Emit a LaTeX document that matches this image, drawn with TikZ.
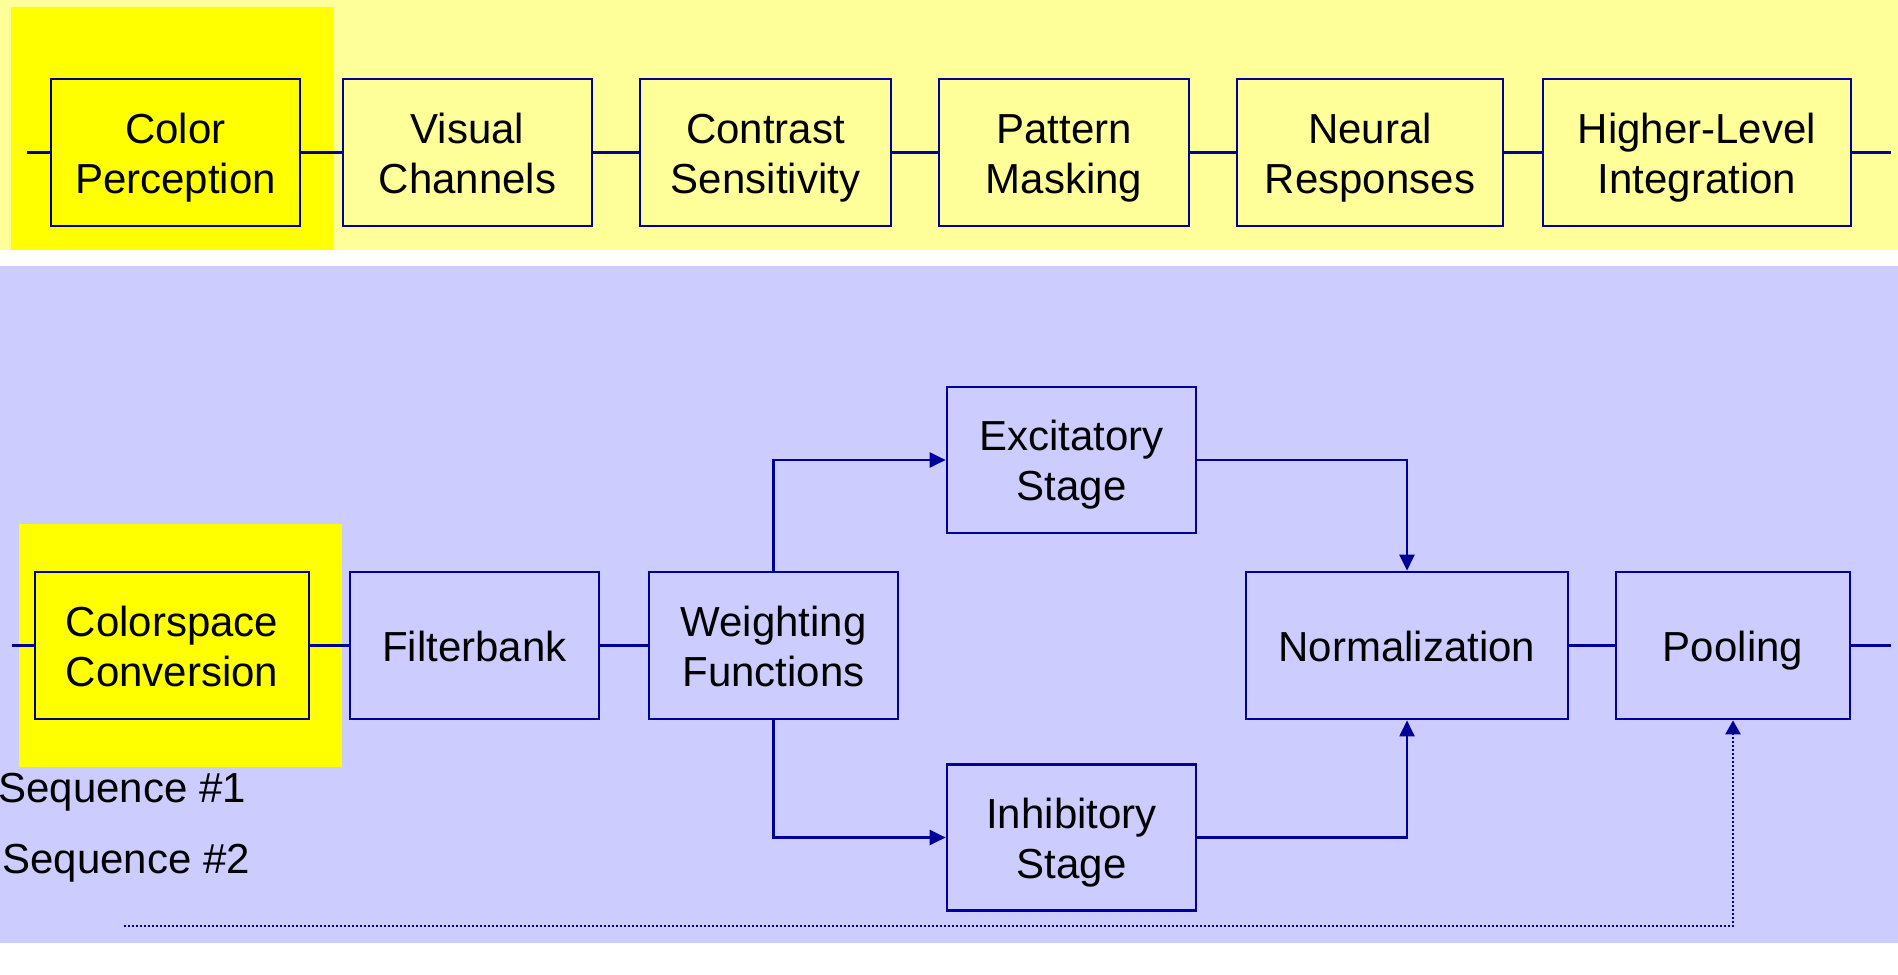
\documentclass[tikz,border=0pt]{standalone}
\usepackage{fontspec}
\setmainfont{Liberation Sans}
\usetikzlibrary{arrows.meta}
\definecolor{paleyellow}{HTML}{FFFF99}
\definecolor{hilite}{HTML}{FFFF00}
\definecolor{lavender}{HTML}{CCCCFF}
\definecolor{navy}{HTML}{000099}
% fixed line height so every box sets its text at the same baselines
\newcommand{\lnstrut}{\rule[-4.75pt]{0pt}{25pt}}
\newcommand{\two}[2]{\lnstrut#1\\\lnstrut#2}
\newcommand{\one}[1]{\lnstrut#1}
\tikzset{
  blk/.style={draw=navy, line width=1.35pt, inner sep=0pt, align=center,
    minimum height=73.5pt, font=\fontsize{21}{25}\selectfont},
  wire/.style={draw=navy, line width=1.15pt},
  arr/.style={wire, -{Triangle[length=8pt,width=7.5pt]}},
  dotarr/.style={wire, dash pattern=on 1pt off 1pt, -{Triangle[length=7pt,width=7.5pt]}},
  lbl/.style={anchor=base west, inner sep=0pt, font=\fontsize{21}{25}\selectfont}
}
\begin{document}
\begin{tikzpicture}[x=0.5pt,y=-0.5pt]
  % canvas and bands
  \useasboundingbox (0,0) rectangle (1898,974);
  \fill[white] (0,0) rectangle (1898,974);
  \fill[paleyellow] (0,0) rectangle (1898,250);
  \fill[lavender] (0,266) rectangle (1898,943);
  \fill[hilite] (11,7) rectangle (334,250);
  \fill[hilite] (19,524) rectangle (342,767);

  % upper sequence
  \node[blk, fill=hilite, minimum width=124.5pt] (cp) at (175.5,152.5) {\two{Color}{Perception}};
  \node[blk, minimum width=124.5pt] (vc) at (467.5,152.5) {\two{Visual}{Channels}};
  \node[blk, minimum width=125.5pt] (cs) at (765.5,152.5) {\two{Contrast}{Sensitivity}};
  \node[blk, minimum width=125pt] (pm) at (1064,152.5) {\two{Pattern}{Masking}};
  \node[blk, minimum width=133pt] (nr) at (1370,152.5) {\two{Neural}{Responses}};
  \node[blk, minimum width=154pt] (hl) at (1697,152.5) {\two{Higher-Level}{Integration}};
  \coordinate (tin) at (27,152.5);
  \coordinate (tout) at (1891,152.5);
  \draw[wire] (tin) -- (cp.west);
  \draw[wire] (cp.east) -- (vc.west);
  \draw[wire] (vc.east) -- (cs.west);
  \draw[wire] (cs.east) -- (pm.west);
  \draw[wire] (pm.east) -- (nr.west);
  \draw[wire] (nr.east) -- (hl.west);
  \draw[wire] (hl.east) -- (tout);

  % lower sequence
  \node[blk, fill=hilite, minimum width=137pt] (cc) at (172,645.5) {\two{Colorspace}{Conversion}};
  \node[blk, minimum width=124.5pt] (fb) at (474.5,645.5) {\one{Filterbank}};
  \node[blk, minimum width=124.5pt] (wf) at (773.5,645.5) {\two{Weighting}{Functions}};
  \node[blk, minimum width=124.5pt, minimum height=73pt] (ex) at (1071.5,460) {\two{Excitatory}{Stage}};
  \node[blk, minimum width=124.5pt, minimum height=73pt] (ih) at (1071.5,837.5) {\two{Inhibitory}{Stage}};
  \node[blk, minimum width=161pt] (no) at (1407,645.5) {\one{Normalization}};
  \node[blk, minimum width=117pt] (po) at (1733,645.5) {\one{Pooling}};
  \coordinate (bin) at (12,645.5);
  \coordinate (bout) at (1891,645.5);
  \coordinate (dstart) at (124,926);
  \draw[wire] (bin) -- (cc.west);
  \draw[wire] (cc.east) -- (fb.west);
  \draw[wire] (fb.east) -- (wf.west);
  \draw[arr] (wf.north) |- (ex.west);
  \draw[arr] (wf.south) |- (ih.west);
  \draw[arr] (ex.east) -| (no.north);
  \draw[arr] (ih.east) -| (no.south);
  \draw[wire] (no.east) -- (po.west);
  \draw[wire] (po.east) -- (bout);
  \draw[dotarr] (dstart) -| (po.south);

  % sequence labels
  \node[lbl] (s1) at (-2,802) {Sequence \#1};
  \node[lbl] (s2) at (2,873) {Sequence \#2};
\end{tikzpicture}
\end{document}
